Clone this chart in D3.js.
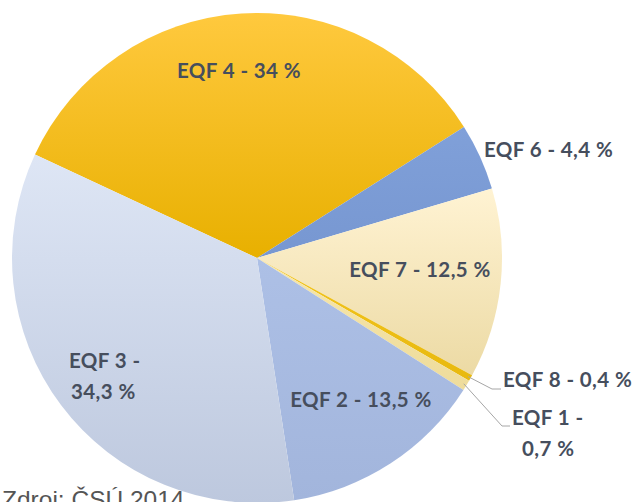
<!DOCTYPE html>
<html>
<head>
<meta charset="utf-8">
<script src="https://cdn.jsdelivr.net/npm/d3@7"></script>
<style>
  html, body { margin: 0; padding: 0; background: #fff; overflow: hidden; }
  .lbl { font-family: Lato, "Open Sans", sans-serif; font-weight: bold; font-size: 20.5px; letter-spacing: 0.4px; fill: #464e5d; }
  .src { font-family: "Liberation Sans", Arial, sans-serif; font-size: 24.5px; fill: #555; }
</style>
</head>
<body>
<div id="chart"></div>
<script>
var width = 636, height = 502
var cx = 257, cy = 258, radius = 245

// data, clockwise from the EQF 4 slice
var categories = ["EQF 4", "EQF 6", "EQF 7", "EQF 8", "EQF 1", "EQF 2", "EQF 3"]
var values = [34, 4.4, 12.5, 0.4, 0.7, 13.5, 34.3]
var valueText = ["34 %", "4,4 %", "12,5 %", "0,4 %", "0,7 %", "13,5 %", "34,3 %"]
var topColors = ["#ffc93e", "#80a0d9", "#fff3d3", "#f2c41e", "#f6e6aa", "#adc0e6", "#dee6f5"]
var bottomColors = ["#e8b000", "#7797d1", "#ecdaa4", "#e8b90e", "#eedc9c", "#a2b5dc", "#bdc8de"]

// label layout: lines, x, y (baseline of first line), anchor
var labelPos = [
    {lines: 1, x: 239, y: 78, anchor: "middle"},
    {lines: 1, x: 484, y: 157, anchor: "start"},
    {lines: 1, x: 420, y: 277, anchor: "middle"},
    {lines: 1, x: 503, y: 387, anchor: "start"},
    {lines: 2, x: 512, y: 425, anchor: "start", dx2: 10},
    {lines: 1, x: 361, y: 407, anchor: "middle"},
    {lines: 2, x: 69, y: 368, anchor: "start", dx2: 2}
]
// leader lines for the tiny slices (index -> points outside the pie)
var leaders = [
    {i: 3, pts: [[492, 389], [501, 389]]},
    {i: 4, pts: [[502, 426], [510, 426]]}
]

var startA = -65 * Math.PI / 180

var svg = d3.select("#chart").append("svg")
    .attr("width", width)
    .attr("height", height)

var defs = svg.append("defs")
categories.forEach(function(c, i) {
    var gr = defs.append("linearGradient")
        .attr("id", "grad" + i)
        .attr("x1", 0).attr("y1", 0).attr("x2", 0).attr("y2", 1)
    gr.append("stop").attr("offset", "0%").attr("stop-color", topColors[i])
    gr.append("stop").attr("offset", "100%").attr("stop-color", bottomColors[i])
})

var pie = d3.pie()
    .sort(null)
    .value(function(d) { return d })
    .startAngle(startA)
    .endAngle(startA + 2 * Math.PI)

var arc = d3.arc().innerRadius(0).outerRadius(radius)
var arcs = pie(values)

var g = svg.append("g").attr("transform", "translate(" + cx + "," + cy + ")")

g.selectAll("path")
    .data(arcs)
    .enter()
    .append("path")
        .attr("d", arc)
        .attr("fill", function(d, i) { return "url(#grad" + i + ")" })

// leader lines start at the arc edge of their slice
leaders.forEach(function(l) {
    var a = arcs[l.i]
    var mid = (a.startAngle + a.endAngle) / 2
    var r0 = radius - 3
    var p0 = [cx + r0 * Math.sin(mid), cy - r0 * Math.cos(mid)]
    svg.append("path")
        .attr("d", d3.line()([p0].concat(l.pts)))
        .attr("fill", "none")
        .attr("stroke", "#a6a6a6")
        .attr("stroke-width", 1)
})

categories.forEach(function(c, i) {
    var p = labelPos[i]
    var t = svg.append("text")
        .attr("class", "lbl")
        .attr("x", p.x)
        .attr("y", p.y)
        .attr("text-anchor", p.anchor)
    if (p.lines == 1) {
        t.text(c + " - " + valueText[i])
    } else {
        t.append("tspan").attr("x", p.x).text(c + " -")
        t.append("tspan").attr("x", p.x + p.dx2).attr("dy", 31).text(valueText[i])
    }
})

svg.append("text")
    .attr("class", "src")
    .attr("x", 2)
    .attr("y", 508)
    .text("Zdroj: ČSÚ 2014")
</script>
</body>
</html>
